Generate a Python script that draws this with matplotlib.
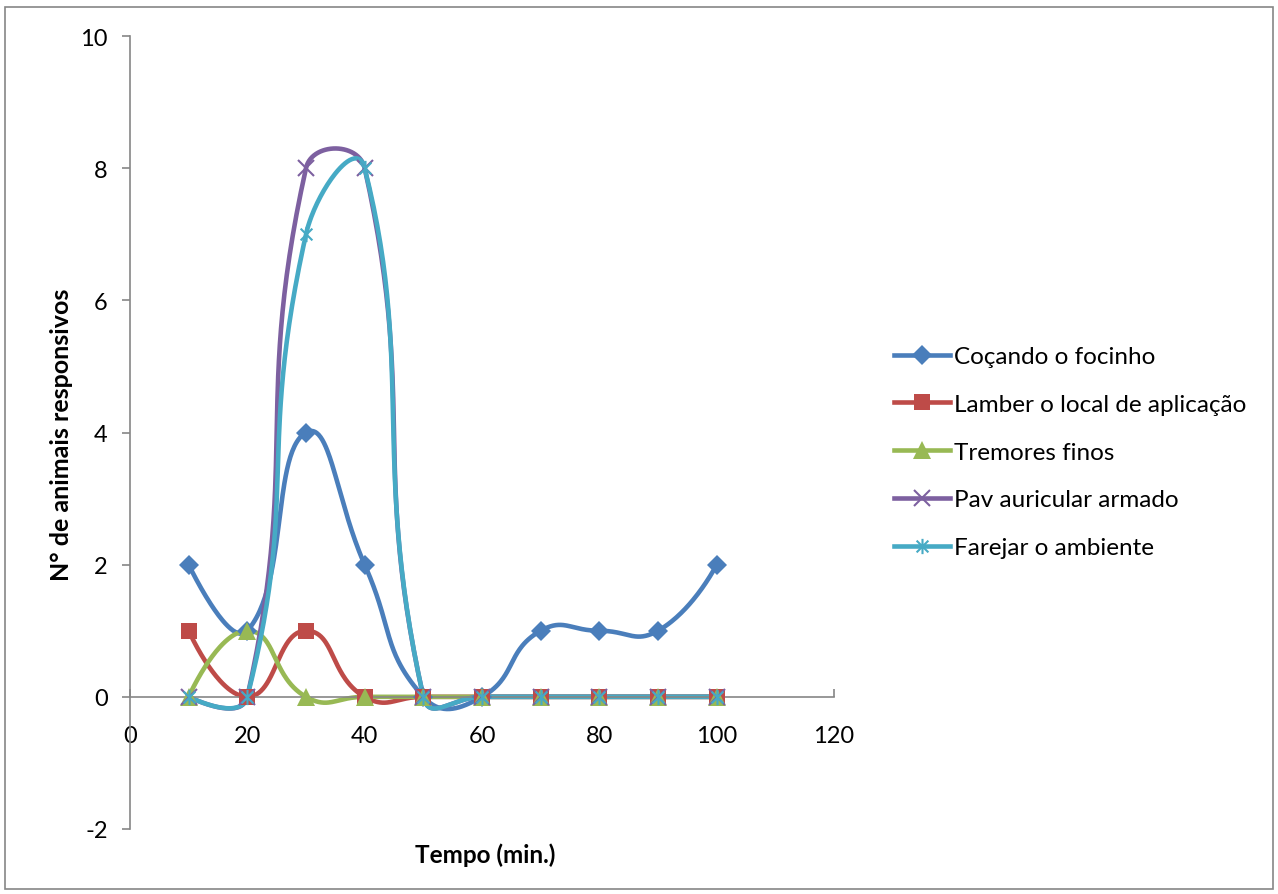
import numpy as np
import matplotlib
matplotlib.use("Agg")
import matplotlib.pyplot as plt
from matplotlib.path import Path
from matplotlib.patches import Rectangle

# ---- data ----
tempo = [10, 20, 30, 40, 50, 60, 70, 80, 90, 100]
cocando = [2, 1, 4, 2, 0, 0, 1, 1, 1, 2]
lamber = [1, 0, 1, 0, 0, 0, 0, 0, 0, 0]
tremores = [0, 1, 0, 0, 0, 0, 0, 0, 0, 0]
pav = [0, 0, 8, 8, 0, 0, 0, 0, 0, 0]
farejar = [0, 0, 7, 8, 0, 0, 0, 0, 0, 0]

series_names = ["Coçando o focinho", "Lamber o local de aplicação", "Tremores finos",
                "Pav auricular armado", "Farejar o ambiente"]
x_ticks = [0, 20, 40, 60, 80, 100, 120]
y_ticks = [-2, 0, 2, 4, 6, 8, 10]

plt.rcParams['font.family'] = ['Lato', 'DejaVu Sans']
plt.rcParams['axes.unicode_minus'] = False

colors = ["#4A7EBB", "#BE4B48", "#98B954", "#7D60A0", "#46AAC5"]

# asterisk marker: X plus vertical bar
star_path = Path([(-1, -1), (1, 1), (-1, 1), (1, -1), (0, -1.3), (0, 1.3)],
                 [Path.MOVETO, Path.LINETO, Path.MOVETO, Path.LINETO, Path.MOVETO, Path.LINETO])

styles = [
    dict(marker='D', ms=10, mew=0),
    dict(marker='s', ms=12, mew=0),
    dict(marker='^', ms=13, mew=0),
    dict(marker='x', ms=11, mew=1.5),
    dict(marker=star_path, ms=11, mew=1.5),
]

fig = plt.figure(figsize=(12.78, 8.95), dpi=100)
ax = fig.add_axes([130/1278, 1-830/895, (834-130)/1278, (830-37)/895])
ax.set_xlim(0, 120)
ax.set_ylim(-2, 10)
ax.set_xticks(x_ticks)
ax.set_yticks(y_ticks)
for s in ['top', 'right']:
    ax.spines[s].set_visible(False)
ax.spines['bottom'].set_position(('data', 0))
for s in ['bottom', 'left']:
    ax.spines[s].set_color('#868686')
    ax.spines[s].set_linewidth(1.2)
ax.tick_params(axis='x', direction='in', length=6, width=1.2, color='#868686', pad=20, labelsize=17)
ax.tick_params(axis='y', direction='out', length=6, width=1.2, color='#868686', pad=10, labelsize=17)
ax.set_xticklabels([str(v) for v in x_ticks])


def excel_smooth(xs, ys, n=60):
    # Bezier smoothing in display space, similar to spreadsheet "smoothed line"
    pts = ax.transData.transform(np.column_stack([xs, ys]))
    f = 0.5
    out = [pts[0]]
    N = len(pts)
    for i in range(N - 1):
        p1, p2 = pts[i], pts[i + 1]
        d12 = np.hypot(*(p2 - p1))
        if i > 0:
            p0 = pts[i - 1]
            d01 = np.hypot(*(p1 - p0))
            c1 = p1 + f * d12 / (d01 + d12) * (p2 - p0)
        else:
            c1 = p1
        if i + 2 < N:
            p3 = pts[i + 2]
            d23 = np.hypot(*(p3 - p2))
            c2 = p2 - f * d12 / (d12 + d23) * (p3 - p1)
        else:
            c2 = p2
        t = np.linspace(0, 1, n)[1:, None]
        seg = ((1 - t) ** 3) * p1 + 3 * ((1 - t) ** 2) * t * c1 + 3 * (1 - t) * t ** 2 * c2 + t ** 3 * p2
        out.extend(seg)
    out = np.array(out)
    return ax.transData.inverted().transform(out)


all_series = [cocando, lamber, tremores, pav, farejar]
handles = []
for ys, name, col, st in zip(all_series, series_names, colors, styles):
    curve = excel_smooth(tempo, ys)
    ax.plot(curve[:, 0], curve[:, 1], color=col, lw=3.3, solid_capstyle='round', zorder=2)
    ax.plot(tempo, ys, linestyle='none', color=col, markerfacecolor=col, markeredgecolor=col,
            zorder=3, **st)
    h, = ax.plot([], [], color=col, lw=3.3, markerfacecolor=col, markeredgecolor=col, **st)
    handles.append(h)

fig.legend(handles, series_names, loc='center left', bbox_to_anchor=(894/1278, 1-453/895),
           frameon=False, fontsize=17.5, handlelength=2.3, handletextpad=0.15, labelspacing=1.1,
           borderaxespad=0, borderpad=0)

fig.text(62/1278, 1-435/895, "N° de animais responsivos", rotation=90, ha='center', va='center',
         fontsize=18, fontweight='bold')
fig.text(485/1278, 1-855/895, "Tempo (min.)", ha='center', va='center', fontsize=17.5, fontweight='bold')

fig.patches.append(Rectangle((5/1278, 5/895), 1 - 10/1278, 1 - 13/895, transform=fig.transFigure,
                             fill=False, edgecolor='#868686', linewidth=1.2))

fig.savefig("out.png", dpi=100)
